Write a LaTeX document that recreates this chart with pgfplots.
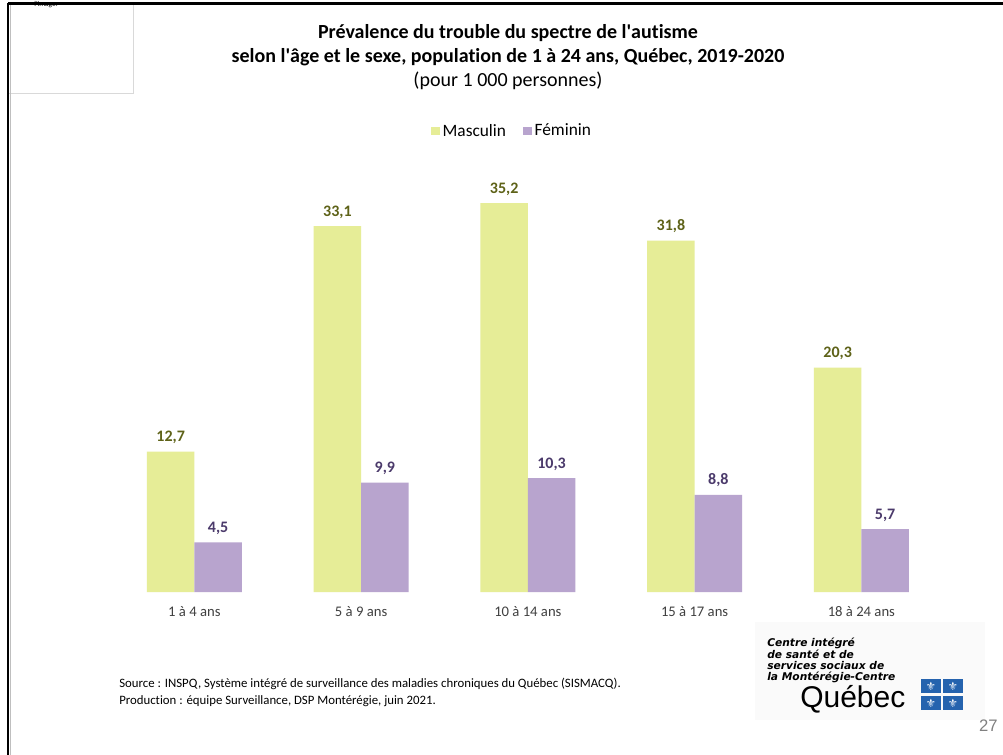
\documentclass[border=0pt]{standalone}
\usepackage{pgfplots}
\pgfplotsset{compat=1.18}
\usepackage{fontspec}
\setmainfont{Carlito}[Ligatures=NoCommon]
\newfontfamily\logofont{DejaVu Sans}
\newfontfamily\arialfont{Liberation Sans}
\definecolor{mascol}{HTML}{E6ED97}
\definecolor{femcol}{HTML}{B8A4CE}
\definecolor{masctext}{HTML}{5E6218}
\definecolor{femtext}{HTML}{4B3A6B}
\definecolor{ticktext}{HTML}{404040}
\definecolor{qblue}{HTML}{2563AE}
\begin{document}
\begin{tikzpicture}
\useasboundingbox (0pt,0pt) rectangle (752.25pt,-566.25pt);
\fill[white] (0pt,0pt) rectangle (752.25pt,-566.25pt);
\begin{scope}[x=0.75pt,y=-0.75pt]
  % page borders
  \draw[gray!30, line width=0.6pt] (8,3) rectangle (133,93);
  \node[font=\fontsize{5.5}{6}\selectfont] at (46,4.5) {l\textquotesingle image.};
  \draw[black, line width=1.6pt] (8,3.5) -- (1003,3.5);
  \draw[black, line width=1.6pt] (8,3) -- (8,755);
  \draw[gray!50, line width=0.6pt] (10,5) -- (10,755);
  % titles
  \node[font=\fontsize{15}{18}\selectfont\bfseries] at (508,33) {Prévalence du trouble du spectre de l\textquotesingle autisme};
  \node[font=\fontsize{15}{18}\selectfont\bfseries] at (508,57) {selon l\textquotesingle âge et le sexe, population de 1 à 24 ans, Québec, 2019-2020};
  \node[font=\fontsize{15}{18}\selectfont] at (508,81) {(pour 1 000 personnes)};
  % source
  \node[font=\fontsize{9.6}{11}\selectfont, anchor=west, inner sep=0pt] at (119,684) {Source : INSPQ, Système intégré de surveillance des maladies chroniques du Québec (SISMACQ).};
  \node[font=\fontsize{9.6}{11}\selectfont, anchor=west, inner sep=0pt] at (119,701) {Production : équipe Surveillance, DSP Montérégie, juin 2021.};
  % logo
  \fill[gray!4] (755,622) rectangle (985,720);
  \node[font=\logofont\fontsize{8}{9}\selectfont\bfseries\itshape, anchor=west, inner sep=0pt] at (767,643) {Centre intégré};
  \node[font=\logofont\fontsize{8}{9}\selectfont\bfseries\itshape, anchor=west, inner sep=0pt] at (767,654.5) {de santé et de};
  \node[font=\logofont\fontsize{8}{9}\selectfont\bfseries\itshape, anchor=west, inner sep=0pt] at (767,666) {services sociaux de};
  \node[font=\logofont\fontsize{8}{9}\selectfont\bfseries\itshape, anchor=west, inner sep=0pt] at (767,677.5) {la Montérégie-Centre};
  \node[font=\arialfont\fontsize{22.5}{24}\selectfont, anchor=base west, inner sep=0pt] at (800,707) {Québec};
  \foreach \fx/\fy in {921/679, 943/679, 921/696, 943/696} {
    \fill[qblue] (\fx,\fy) rectangle ++(20,14);
    \node[white, font=\logofont\fontsize{8.5}{9}\selectfont, inner sep=0pt] at (\fx+10,\fy+7) {⚜};
  }
  \node[font=\arialfont\fontsize{12.5}{14}\selectfont, text=gray, anchor=base east, inner sep=0pt] at (998,731) {27};
\end{scope}
\begin{axis}[
  at={(83.25pt,-444pt)}, anchor=south west,
  scale only axis, width=625.3pt, height=331.5pt,
  xmin=-0.5, xmax=4.5, ymin=0, ymax=40,
  ybar, bar width=35.6pt,
  axis line style={draw=none},
  ytick=\empty,
  xtick={0,1,2,3,4},
  xticklabels={1 à 4 ans, 5 à 9 ans, 10 à 14 ans, 15 à 17 ans, 18 à 24 ans},
  major tick length=0pt,
  xticklabel style={font=\fontsize{11}{13}\selectfont, text=ticktext, anchor=base, yshift=-18.5pt},
  nodes near coords={\pgfmathprintnumber[use comma,fixed,fixed zerofill,precision=1,assume math mode=true]{\pgfplotspointmeta}},
  nodes near coords style={font=\fontsize{12}{14}\selectfont\bfseries, anchor=base, yshift=7.5pt, inner sep=0pt},
  legend style={at={(0.4816,1.043)}, anchor=center, draw=none, fill=none, legend columns=2,
    font=\fontsize{13}{15}\selectfont, /tikz/every even column/.append style={column sep=11pt}},
  legend image code/.code={\path[#1,draw=none] (0pt,-3.2pt) rectangle (6.4pt,3.2pt);},
]
\addplot[fill=mascol, draw=none, bar shift=-17.8pt, nodes near coords style={text=masctext}]
  coordinates {(0,12.7) (1,33.1) (2,35.2) (3,31.8) (4,20.3)};
\addlegendentry{Masculin}
\addplot[fill=femcol, draw=none, bar shift=17.8pt, nodes near coords style={text=femtext}]
  coordinates {(0,4.5) (1,9.9) (2,10.3) (3,8.8) (4,5.7)};
\addlegendentry{Féminin}
\end{axis}
\end{tikzpicture}
\end{document}
